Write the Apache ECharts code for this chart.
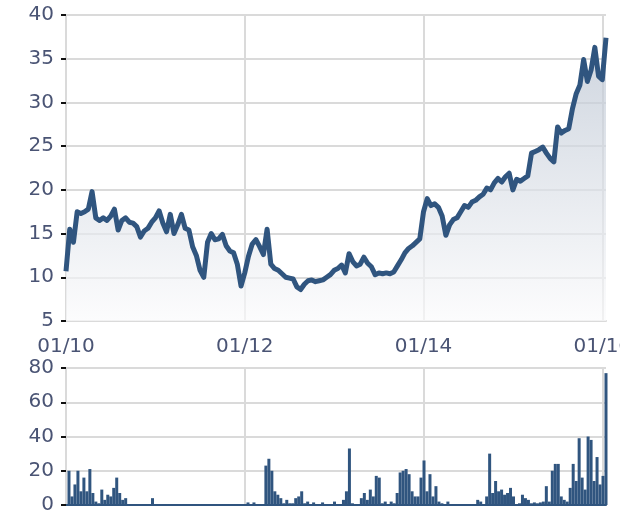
<!DOCTYPE html>
<html>
<head>
<meta charset="utf-8">
<script src="https://cdn.jsdelivr.net/npm/echarts@6/dist/echarts.min.js"></script>
<style>html,body{margin:0;padding:0;background:#fff;}#c{width:620px;height:525px;}</style>
</head>
<body>
<div id="c"></div>
<script>
// Price, sampled every half month from 01/2010
const prices = [10.7,15.5,14.0,17.5,17.3,17.5,17.8,19.8,16.8,16.5,
16.8,16.5,17.0,17.8,15.4,16.5,16.8,16.3,16.2,15.8,
14.6,15.3,15.6,16.3,16.8,17.6,16.2,15.2,17.2,15.0,
16.0,17.2,15.6,15.4,13.5,12.5,10.8,10.0,14.0,15.0,
14.3,14.4,14.9,13.6,13.0,12.8,11.5,9.0,10.5,12.4,
13.8,14.3,13.5,12.6,15.5,11.5,11.0,10.8,10.4,10.0,
9.9,9.8,8.9,8.6,9.2,9.6,9.7,9.5,9.6,9.7,
10.0,10.3,10.8,11.0,11.4,10.5,12.7,11.8,11.3,11.5,
12.3,11.6,11.2,10.3,10.5,10.4,10.5,10.4,10.6,11.3,
12.0,12.8,13.3,13.6,14.0,14.4,17.5,19.0,18.2,18.4,
18.0,17.0,14.8,16.0,16.6,16.8,17.5,18.2,18.0,18.6,
18.8,19.2,19.5,20.2,20.0,20.8,21.3,20.9,21.5,21.9,
20.0,21.2,21.0,21.3,21.6,24.2,24.4,24.6,24.9,24.2,
23.6,23.2,27.2,26.5,26.8,27.0,29.3,31.0,32.0,34.9,
32.4,33.7,36.3,33.0,32.6,37.4];

// Volume, sampled every ~0.4 month from 01/2010
const volumes = [0,20,5,12,20,8,16,8,21,7,
2,1,9,3,6,5,10,16,7,3,
4,0.5,0.5,0.5,0.5,0.5,0.5,0.5,0.5,4,
0.5,0.5,0,0.5,0.5,0.5,0.5,0.5,0.5,0.5,
0.5,0.5,0.5,0.5,0.5,0.5,0.5,0.5,0.5,0.5,
0.5,0.5,0.5,0.5,0.5,0.5,0.5,0.5,0.5,0.5,
0.5,1.5,0.5,1.5,0.5,0.5,0.5,23,27,20,
8,6,4,1,3,1,1,4,5,8,
1,2,0.5,1.5,0.5,0.5,1.5,0.5,0.5,0.5,
2,0.5,0.5,3,8,33,1,0.5,0.5,4,
7,3,9,5,17,16,1,2,0.5,2,
1,7,19,20,21,18,8,5,5,16,
26,8,18,5,11,2,1,0.5,2,0.5,
0.5,0.5,0.5,0.5,0.5,0.5,0.5,0.5,3,2,
0.5,5,30,7,14,8,9,6,7,10,
5,0.5,1,6,4,3,1,1.5,1,1.5,
2,11,2,20,24,24,5,3,2,10,
24,14,39,16,9,40,38,14,28,12,
17,77];

const tickLabels = ['01/10','01/12','01/14','01/16'];

// category dates
function mkDates(n, stepMonths){
  const out = [];
  for (let i = 0; i < n; i++) {
    const m = i * stepMonths;
    const y = 2010 + Math.floor(m / 12);
    const mo = Math.floor(m % 12) + 1;
    const d = Math.floor((m % 1) * 28) + 1;
    out.push(y + '-' + String(mo).padStart(2,'0') + '-' + String(d).padStart(2,'0') + '#' + i);
  }
  return out;
}
const priceDates = mkDates(prices.length, 0.5);
const volumeDates = mkDates(volumes.length, 72.5 / (volumes.length - 1));

const priceTickEvery = 48;            // 24 months / 0.5
const volTickIdx = [60, 120, 180];

const txt = {color:'#4a5474', fontSize:20, fontFamily:'DejaVu Sans'};
const gridColor = '#dadada';
const lineColor = '#30557f';

const chart = echarts.init(document.getElementById('c'), null, {renderer:'canvas'});
chart.setOption({
  animation:false,
  backgroundColor:'#fff',
  grid:[
    {left:66, right:14, top:15, height:306, containLabel:false, outerBoundsMode:'none'},
    {left:66, right:14, top:368, height:137, containLabel:false, outerBoundsMode:'none'}
  ],
  xAxis:[
    {type:'category', gridIndex:0, data:priceDates, boundaryGap:false,
     axisLine:{show:true, lineStyle:{color:gridColor, width:2}},
     axisTick:{show:false},
     axisLabel:Object.assign({margin:16, showMaxLabel:true, hideOverlap:false,
       interval:(i)=> i % priceTickEvery === 0,
       formatter:(v,i)=> tickLabels[Math.round(i/priceTickEvery)] || ''}, txt),
     splitLine:{show:true, interval:(i)=> i % priceTickEvery === 0 && i > 0, lineStyle:{color:gridColor, width:2}}
    },
    {type:'category', gridIndex:1, data:volumeDates, boundaryGap:false,
     axisLine:{show:true, lineStyle:{color:lineColor, width:2}},
     axisTick:{show:false},
     axisLabel:{show:false},
     splitLine:{show:true, interval:(i)=> volTickIdx.indexOf(i) >= 0, lineStyle:{color:gridColor, width:2}}
    }
  ],
  yAxis:[
    {type:'value', gridIndex:0, min:5, max:40, interval:5,
     axisLine:{show:true, lineStyle:{color:gridColor, width:2}},
     axisTick:{show:true, length:5, lineStyle:{color:'#111', width:2}},
     axisLabel:Object.assign({margin:12}, txt),
     splitLine:{show:true, lineStyle:{color:gridColor, width:2}}
    },
    {type:'value', gridIndex:1, min:0, max:80, interval:20,
     axisLine:{show:true, lineStyle:{color:gridColor, width:2}},
     axisTick:{show:true, length:5, lineStyle:{color:'#111', width:2}},
     axisLabel:Object.assign({margin:12}, txt),
     splitLine:{show:true, lineStyle:{color:gridColor, width:2}}
    }
  ],
  series:[
    {type:'line', xAxisIndex:0, yAxisIndex:0, data:prices, showSymbol:false,
     lineStyle:{color:lineColor, width:5, join:'round'},
     areaStyle:{color:new echarts.graphic.LinearGradient(0,0,0,1,[
       {offset:0, color:'#b9c3d1'},{offset:1, color:'#fbfbfc'}])},
     z:3},
    {type:'bar', xAxisIndex:1, yAxisIndex:1, data:volumes, barWidth:3,
     itemStyle:{color:lineColor}, z:3}
  ]
});
</script>
</body>
</html>
